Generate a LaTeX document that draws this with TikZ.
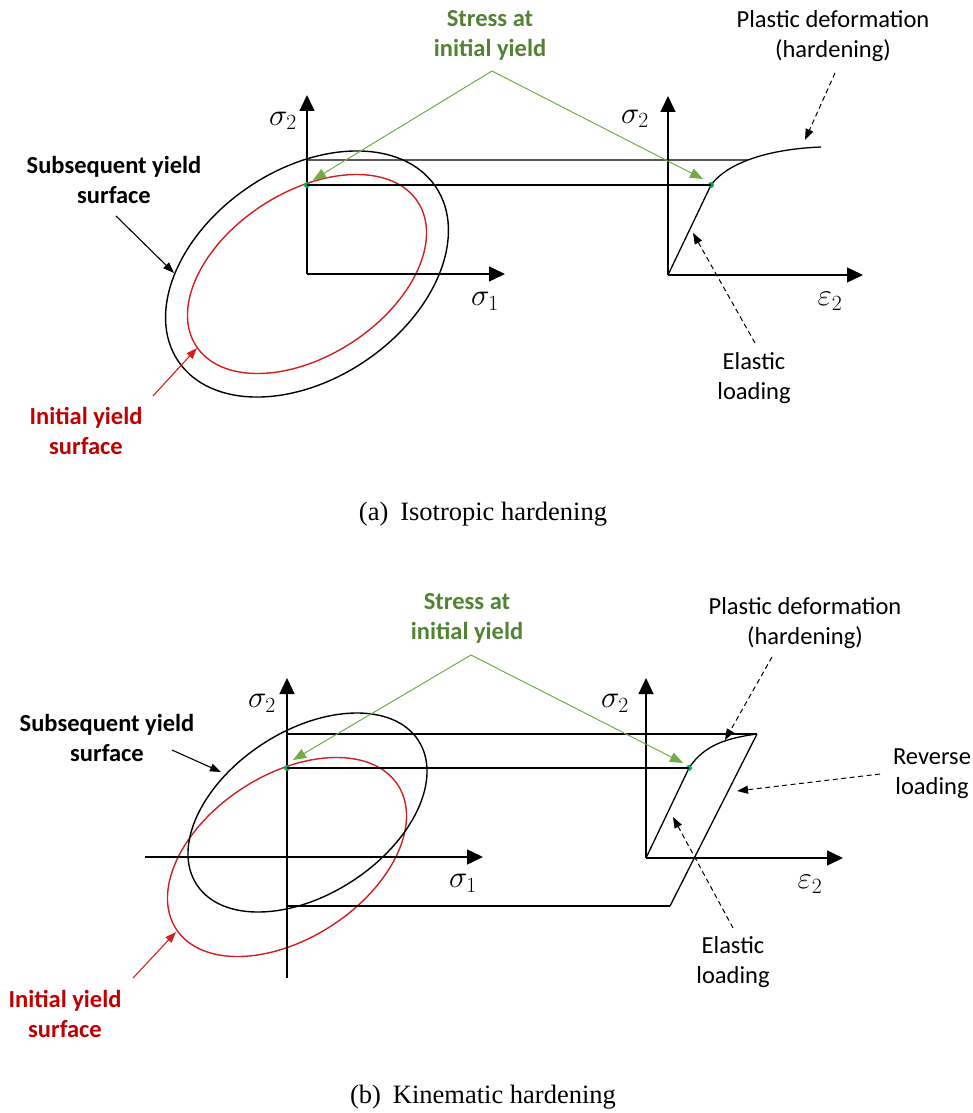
\RequirePackage{fix-cm}
\documentclass[tikz,border=0pt]{standalone}
\usepackage{fontspec}
\setmainfont{Liberation Serif}
\newfontfamily\lblfont{Carlito}
\usetikzlibrary{arrows.meta,intersections}
\definecolor{gtext}{HTML}{548235}
\definecolor{gline}{HTML}{70AD47}
\definecolor{gdot}{HTML}{00B050}
\definecolor{rtext}{HTML}{C00000}
\definecolor{rline}{HTML}{D02020}
\begin{document}
\begin{tikzpicture}[x=1pt,y=-1pt,
  axis/.style={line width=1.4pt,-{Triangle[length=16pt,width=15pt]}},
  hline/.style={line width=1.1pt},
  crv/.style={line width=1.3pt},
  ysurf/.style={line width=1.4pt},
  lbl/.style={font=\lblfont\fontsize{24.5}{30}\selectfont,align=center,inner sep=0pt},
  blbl/.style={font=\lblfont\bfseries\fontsize{24.5}{30}\selectfont,align=center,inner sep=0pt},
  mathlbl/.style={font=\fontsize{31}{34}\selectfont,inner sep=0pt},
  captxt/.style={font=\fontsize{26.5}{30}\selectfont,inner sep=0pt},
  solidarr/.style={line width=1.1pt,-{Triangle[length=11pt,width=8pt]}},
  dasharr/.style={line width=1pt,dash pattern=on 5pt off 3.5pt,-{Triangle[length=11pt,width=8pt]}},
  greenarr/.style={line width=1pt,draw=gline,-{Triangle[length=13pt,width=10pt]},color=gline},
  gdotst/.style={circle,fill=gdot,inner sep=0pt,minimum size=6pt}]
\useasboundingbox (0,0) rectangle (973,1113);

%%%%%%%%%%%%%%%% (a) isotropic %%%%%%%%%%%%%%%%
\coordinate (O1) at (307,274);
\coordinate (O1up) at (307,95);
\coordinate (O1rt) at (505,274);
\coordinate (Yb1) at (307,160);
\coordinate (O2) at (668,275);
\coordinate (O2up) at (668,96);
\coordinate (O2rt) at (863,275);
\coordinate (P1) at (711,185);
\coordinate (E1) at (821,147);
\coordinate (A1) at (492,71);
\coordinate (GL1) at (313,180);
\coordinate (GR1) at (703,179);

\draw[ysurf,black,rotate around={34.2:(O1)}] (O1) ellipse [x radius=155.5pt,y radius=104.7pt];
\draw[ysurf,rline,rotate around={33:(O1)}] (O1) ellipse [x radius=132.2pt,y radius=81.9pt];

\draw[axis] (O1) -- (O1up);
\draw[axis] (O1) -- (O1rt);
\draw[axis] (O2) -- (O2up);
\draw[axis] (O2) -- (O2rt);

\draw[crv] (O2) -- (P1);
\draw[crv,name path=pc1] (P1) .. controls (728,162) and (770,149) .. (E1);
\path[name path=h1] (Yb1) -- (900,160);
\path[name intersections={of=pc1 and h1,by=H1}];
\draw[hline] (Yb1) -- (H1);

\node[gdotst] (Y1) at (307,185) {};
\node[gdotst] (Q1) at (P1) {};
\draw[hline] (Y1.center) -- (Q1.center);

\draw[greenarr] (A1) -- (GL1);
\draw[greenarr] (A1) -- (GR1);
\node[blbl,text=gtext] (st1) at (490,35) {Stress at\\initial yield};

\node[mathlbl] (s2a) at (283,121) {$\sigma_2$};
\node[mathlbl] (s1a) at (485,301) {$\sigma_1$};
\node[mathlbl] (s2b) at (635,119) {$\sigma_2$};
\node[mathlbl] (e2a) at (830,301) {$\varepsilon_2$};

\node[lbl] (pd1) at (833,36) {Plastic deformation\\(hardening)};
\coordinate (pd1s) at (835,73);
\coordinate (pd1e) at (805,140);
\draw[dasharr] (pd1s) -- (pd1e);

\node[lbl] (el1) at (754,378) {Elastic\\loading};
\coordinate (el1s) at (755,343);
\coordinate (el1e) at (693,233);
\draw[dasharr] (el1s) -- (el1e);

\node[blbl] (sy1) at (114,180) {Subsequent yield\\surface};
\coordinate (sy1s) at (116,216);
\coordinate (sy1e) at (174,273);
\draw[solidarr] (sy1s) -- (sy1e);

\node[blbl,text=rtext] (iy1) at (86,431) {Initial yield\\surface};
\coordinate (iy1s) at (153,396);
\coordinate (iy1e) at (197,348);
\draw[solidarr,rline] (iy1s) -- (iy1e);

\node[captxt] (capa) at (483,514) {(a)\hspace{0.45em}Isotropic hardening};

%%%%%%%%%%%%%%%% (b) kinematic %%%%%%%%%%%%%%%%
\coordinate (O3) at (287,857);
\coordinate (O3up) at (287,678);
\coordinate (O3rt) at (483,857);
\coordinate (O3lt) at (145,857);
\coordinate (O3dn) at (287,978);
\coordinate (C3) at (307.5,812.5);
\coordinate (Yb3) at (287,734);
\coordinate (Yc3) at (287,906);
\coordinate (O4) at (646,858);
\coordinate (O4up) at (646,678);
\coordinate (O4rt) at (843,858);
\coordinate (P4) at (689,768);
\coordinate (E4) at (757,734);
\coordinate (R4) at (670,906);
\coordinate (A2) at (471,655);
\coordinate (GL2) at (293,760);
\coordinate (GR2) at (683,763);

\draw[ysurf,rline,rotate around={33:(O3)}] (O3) ellipse [x radius=132.2pt,y radius=81.9pt];
\draw[ysurf,black,rotate around={33:(C3)}] (C3) ellipse [x radius=132.2pt,y radius=81.9pt];

\draw[axis] (O3dn) -- (O3up);
\draw[axis] (O3lt) -- (O3rt);
\draw[axis] (O4) -- (O4up);
\draw[axis] (O4) -- (O4rt);

\draw[crv] (O4) -- (P4);
\draw[crv] (P4) .. controls (704,745) and (727,738) .. (E4);
\draw[crv] (E4) -- (R4);
\draw[hline] (Yb3) -- (E4);
\draw[hline] (Yc3) -- (R4);

\node[gdotst] (Y3) at (287,768) {};
\node[gdotst] (Q4) at (P4) {};
\draw[hline] (Y3.center) -- (Q4.center);

\draw[greenarr] (A2) -- (GL2);
\draw[greenarr] (A2) -- (GR2);
\node[blbl,text=gtext] (st2) at (467,618) {Stress at\\initial yield};

\node[mathlbl] (s2c) at (262,703) {$\sigma_2$};
\node[mathlbl] (s1c) at (463,883) {$\sigma_1$};
\node[mathlbl] (s2d) at (615,703) {$\sigma_2$};
\node[mathlbl] (e2b) at (810,884) {$\varepsilon_2$};

\node[lbl] (pd2) at (805,623) {Plastic deformation\\(hardening)};
\coordinate (pd2s) at (772,657);
\coordinate (pd2e) at (725,740);
\draw[dasharr] (pd2s) -- (pd2e);

\node[lbl] (rl2) at (932,774) {Reverse\\loading};
\coordinate (rl2s) at (880,774);
\coordinate (rl2e) at (737,791);
\draw[dasharr] (rl2s) -- (rl2e);

\node[lbl] (el2) at (733,962) {Elastic\\loading};
\coordinate (el2s) at (733,928);
\coordinate (el2e) at (673,817);
\draw[dasharr] (el2s) -- (el2e);

\node[blbl] (sy2) at (107,738) {Subsequent yield\\surface};
\coordinate (sy2s) at (172,750);
\coordinate (sy2e) at (221,772);
\draw[solidarr] (sy2s) -- (sy2e);

\node[blbl,text=rtext] (iy2) at (65,1014) {Initial yield\\surface};
\coordinate (iy2s) at (133,978);
\coordinate (iy2e) at (176,932);
\draw[solidarr,rline] (iy2s) -- (iy2e);

\node[captxt] (capb) at (483,1097) {(b)\hspace{0.45em}Kinematic hardening};
\end{tikzpicture}
\end{document}
